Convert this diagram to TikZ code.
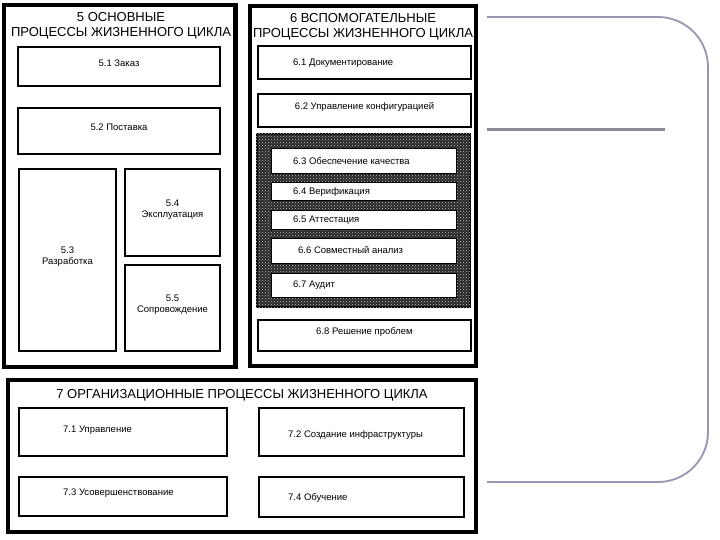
\documentclass[tikz,border=0pt]{standalone}
\usepackage{fontspec}
\setmainfont{Liberation Sans}
\usetikzlibrary{fit,patterns}
\definecolor{decoC}{RGB}{150,150,178}
\definecolor{midC}{RGB}{140,140,152}
\begin{document}
\begin{tikzpicture}[x=1pt,y=-1pt,
 panel/.style={draw=black, line width=4.5pt, inner sep=0pt},
 bx/.style={draw=black, line width=2.6pt, fill=white, inner sep=0pt, align=center, font=\fontsize{9.5}{11}\selectfont},
 wbx/.style={draw=black, line width=1pt, fill=white, inner sep=0pt},
 ttl/.style={font=\fontsize{13}{15}\selectfont, align=center, inner sep=0pt},
 lbl/.style={font=\fontsize{9.5}{11}\selectfont, inner sep=0pt, anchor=west},
 deco/.style={draw=decoC, line width=1.8pt}]
\useasboundingbox (0,0) rectangle (720,540);
\fill[white] (0,0) rectangle (720,540);

% panels
\node[panel, fit={(4,5)(235.5,367)}] (p5) {};
\node[panel, fit={(250,6)(476,366)}] (p6) {};
\node[panel, fit={(8,380)(476,532)}] (p7) {};

% titles
\node[ttl] (t5) at (121,26) {5 ОСНОВНЫЕ\\ПРОЦЕССЫ ЖИЗНЕННОГО ЦИКЛА};
\node[ttl] (t6) at (363,27) {6 ВСПОМОГАТЕЛЬНЫЕ\\ПРОЦЕССЫ ЖИЗНЕННОГО ЦИКЛА};
\node[ttl] (t7) at (242,395) {7 ОРГАНИЗАЦИОННЫЕ ПРОЦЕССЫ ЖИЗНЕННОГО ЦИКЛА};

% section 5
\node[bx, fit={(18,47)(220,86)}] (b51) {5.1 Заказ};
\node[bx, fit={(18,108)(220,154)}] (b52) {5.2 Поставка};
\node[bx, fit={(19,169)(116,351)}] (b53) {5.3\\Разработка};
\node[bx, fit={(125,169)(220,256)}] (b54) {5.4\\Эксплуатация};
\node[bx, fit={(125,265)(220,351)}] (b55) {5.5\\Сопровождение};

% section 6
\node[bx, fit={(258,46)(471,79)}] (b61) {};
\node[lbl] (l61) at (293,63) {6.1 Документирование};
\node[bx, fit={(258,94)(471,127)}] (b62) {6.2 Управление конфигурацией};
\node[draw=black, line width=2pt, fill=black!85, fit={(257,134)(470,307)}, inner sep=0pt] (g6) {};
\fill[pattern=crosshatch dots, pattern color=gray!45] (g6.north west) rectangle (g6.south east);
\node[wbx, fit={(271,149)(456,174)}] (b63) {};
\node[lbl] (l63) at (293,161.5) {6.3 Обеспечение качества};
\node[wbx, fit={(271,183)(456,201)}] (b64) {};
\node[lbl] (l64) at (293,192) {6.4 Верификация};
\node[wbx, fit={(271,211)(456,230)}] (b65) {};
\node[lbl] (l65) at (293,220.5) {6.5 Аттестация};
\node[wbx, fit={(271,238)(456,263)}] (b66) {};
\node[lbl] (l66) at (298,250.5) {6.6 Совместный анализ};
\node[wbx, fit={(271,273)(456,297)}] (b67) {};
\node[lbl] (l67) at (293,285) {6.7 Аудит};
\node[bx, fit={(258,320)(471,351)}] (b68) {6.8 Решение проблем};

% section 7
\node[bx, fit={(19,408)(227,456)}] (b71) {};
\node[lbl] (l71) at (63,430) {7.1 Управление};
\node[bx, fit={(259,408)(464,456)}] (b72) {};
\node[lbl] (l72) at (288,435) {7.2 Создание инфраструктуры};
\node[bx, fit={(19,477)(227,516)}] (b73) {};
\node[lbl] (l73) at (63,493) {7.3 Усовершенствование};
\node[bx, fit={(259,477)(464,517)}] (b74) {};
\node[lbl] (l74) at (288,498) {7.4 Обучение};

% decorative frame
\draw[deco, rounded corners=50pt] (487,17) -- (708,17) -- (708,482) -- (487,482);
\draw[line width=3pt, draw=midC] (487,130) -- (665,130);
\end{tikzpicture}
\end{document}
